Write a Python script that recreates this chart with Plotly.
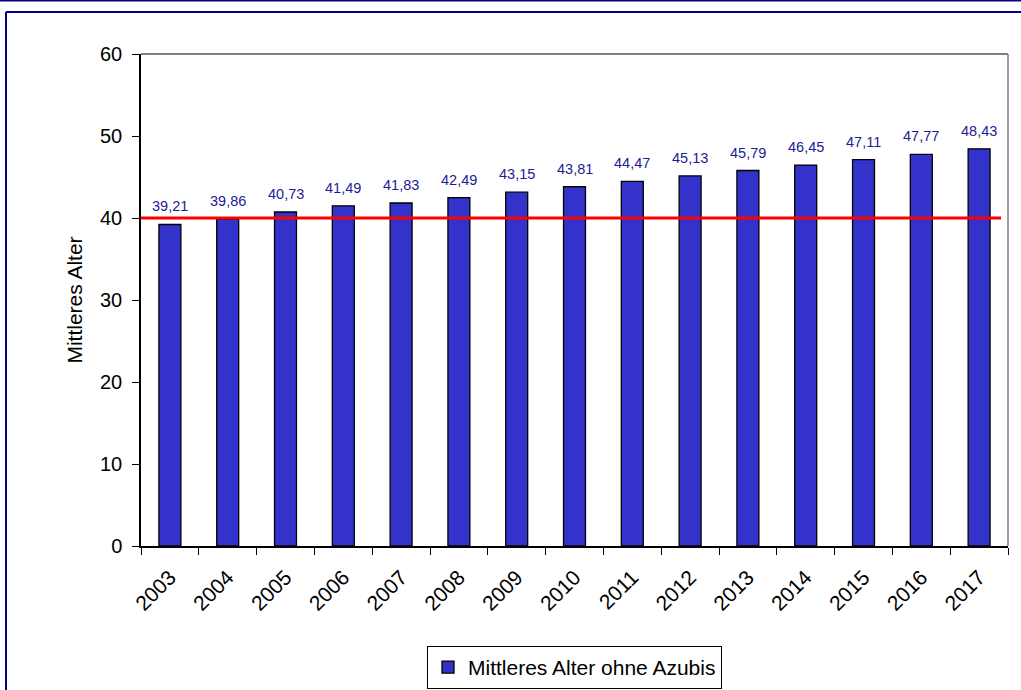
import plotly.graph_objects as go

years = ["2003", "2004", "2005", "2006", "2007", "2008", "2009", "2010",
         "2011", "2012", "2013", "2014", "2015", "2016", "2017"]
mean_age = [39.21, 39.86, 40.73, 41.49, 41.83, 42.49, 43.15, 43.81,
            44.47, 45.13, 45.79, 46.45, 47.11, 47.77, 48.43]
reference_age = 40
series_name = "Mittleres Alter ohne Azubis"
y_title = "Mittleres Alter"

FONT = "Liberation Sans, Arial, sans-serif"
W, H = 1021, 690
L, R, T, B = 141, 13, 54, 144
pw, ph = W - L - R, H - T - B

def px_x(p):
    return (p - L) / pw

def px_y(p):
    return (H - B - p) / ph

fig = go.Figure()
fig.add_trace(go.Bar(
    x=years, y=mean_age, name=series_name,
    marker=dict(color="#3333CC", line=dict(color="#000000", width=1.3)),
    showlegend=True,
))

annotations = []
for i, v in enumerate(mean_age):
    annotations.append(dict(
        x=i, y=v, xref="x", yref="y", text=f"{v:.2f}".replace(".", ","),
        showarrow=False, yanchor="bottom", yshift=8,
        font=dict(family=FONT, size=14.5, color="#1c1c94"),
    ))

shapes = [
    dict(type="line", xref="paper", yref="y", x0=0, x1=px_x(1001),
         y0=reference_age, y1=reference_age,
         line=dict(color="#FF0000", width=3)),
    dict(type="line", xref="paper", yref="paper", x0=0, x1=1, y0=1, y1=1,
         line=dict(color="#555555", width=1.5)),
    dict(type="line", xref="paper", yref="paper", x0=1, x1=1, y0=0, y1=1,
         line=dict(color="#808080", width=1.5)),
    dict(type="line", xref="paper", yref="paper", x0=px_x(6), x1=px_x(W + 5),
         y0=px_y(12), y1=px_y(12), line=dict(color="#000080", width=2)),
    dict(type="line", xref="paper", yref="paper", x0=px_x(6), x1=px_x(6),
         y0=px_y(12), y1=px_y(H + 5), line=dict(color="#000080", width=2)),
    dict(type="line", xref="paper", yref="paper", x0=px_x(0), x1=px_x(W + 5),
         y0=px_y(0.5), y1=px_y(0.5), line=dict(color="#000080", width=2)),
]

fig.update_layout(
    width=W, height=H,
    margin=dict(l=L, r=R, t=T, b=B, autoexpand=False),
    paper_bgcolor="white", plot_bgcolor="white",
    font=dict(family=FONT, color="#000000"),
    bargap=0.62,
    annotations=annotations,
    shapes=shapes,
    legend=dict(
        orientation="h", x=0.5, xanchor="center", y=px_y(646), yanchor="top",
        bordercolor="#000000", borderwidth=1,
        font=dict(family=FONT, size=21, color="#000000"),
        itemwidth=30,
    ),
    xaxis=dict(
        type="category", range=[-0.5, len(years) - 0.5], autorange=False,
        tickson="boundaries", ticks="outside", ticklen=7,
        tickcolor="#000000", showline=True, linecolor="#000000", linewidth=1.5,
        tickangle=-45, tickfont=dict(family=FONT, size=21),
        ticklabelstandoff=9,
        showgrid=False, fixedrange=True,
    ),
    yaxis=dict(
        range=[0, 60], dtick=10, ticks="outside", ticklen=7,
        tickcolor="#000000", showline=True, linecolor="#000000", linewidth=1.5,
        showgrid=False, zeroline=False, tickfont=dict(family=FONT, size=20),
        ticklabelstandoff=6,
        title=dict(text=y_title, font=dict(family=FONT, size=21), standoff=12),
        fixedrange=True,
    ),
)

fig.write_html("out.html")
